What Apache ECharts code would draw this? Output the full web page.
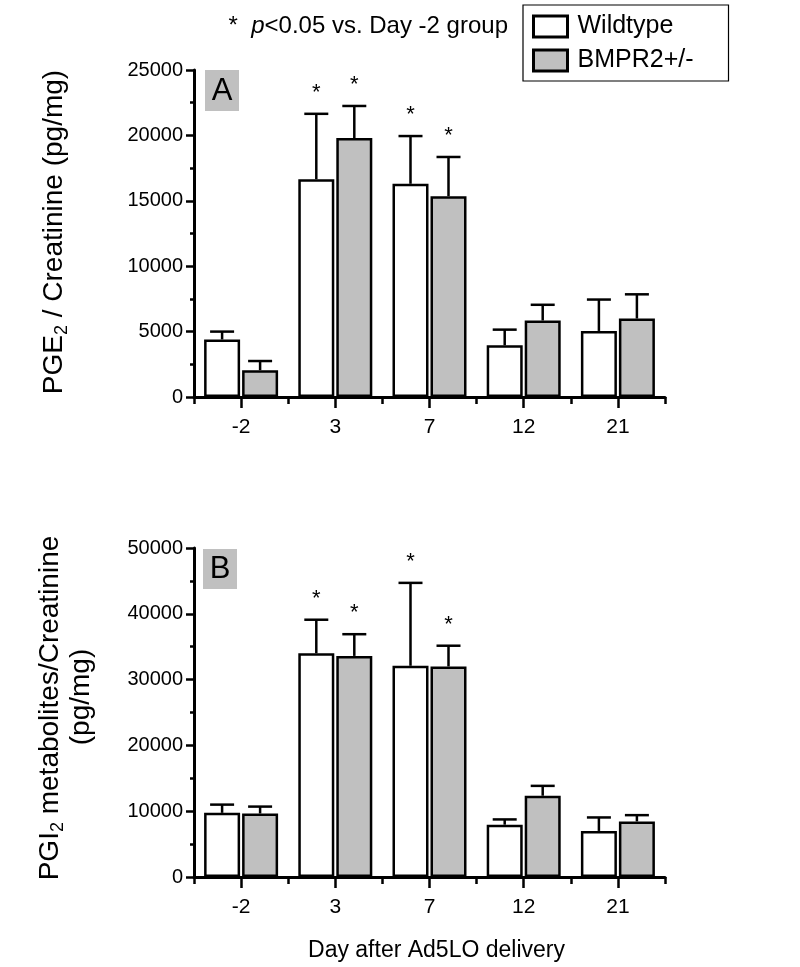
<!DOCTYPE html>
<html>
<head>
<meta charset="utf-8">
<script src="https://cdn.jsdelivr.net/npm/echarts@6/dist/echarts.min.js"></script>
<style>
html,body{margin:0;padding:0;background:#fff;}
#chart{width:800px;height:967px;}
</style>
</head>
<body>
<div id="chart"></div>
<script>
// ---- data ----
const days = ['-2', '3', '7', '12', '21'];
const seriesNames = ['Wildtype', 'BMPR2+/-'];
// Panel A: PGE2 / Creatinine (pg/mg)
const pgeWT = [4400, 16650, 16300, 3950, 5050];
const pgeWTsd = [600, 5000, 3650, 1200, 2400];
const pgeKO = [2050, 19800, 15350, 5850, 6000];
const pgeKOsd = [700, 2450, 3000, 1200, 1850];
const pgeWTsig = [0, 1, 1, 0, 0];
const pgeKOsig = [0, 1, 1, 0, 0];
// Panel B: PGI2 metabolites / Creatinine (pg/mg)
const pgiWT = [9750, 34000, 32100, 7950, 7000];
const pgiWTsd = [1250, 5100, 12600, 800, 2050];
const pgiKO = [9650, 33600, 32000, 12350, 8450];
const pgiKOsd = [1050, 3300, 3150, 1500, 950];
const pgiWTsig = [0, 1, 1, 0, 0];
const pgiKOsig = [0, 1, 1, 0, 0];
// axis ticks
const yMaxA = 25000, yStepA = 5000;
const yMaxB = 50000, yStepB = 10000;

const FONT = "'Liberation Sans', Arial, Helvetica, sans-serif";
const GRAY = '#c0c0c0';
const BAR_W = 36, BAR_GAP = 2;

const chart = echarts.init(document.getElementById('chart'), null, {renderer: 'canvas'});

function errData(mean, sd, sig) {
  return mean.map((m, i) => [i, m, sd[i], sig[i]]);
}
function errSeries(name, mean, sd, sig, side, gi) {
  return {
    type: 'custom', name: name, xAxisIndex: gi * 2, yAxisIndex: gi, z: 5,
    data: errData(mean, sd, sig),
    renderItem: function (params, api) {
      const i = api.value(0), m = api.value(1), s = api.value(2), g = api.value(3);
      const base = api.coord([i, m]);
      const top = api.coord([i, m + s]);
      const cx = base[0] + side * (BAR_W + BAR_GAP) / 2;
      const children = [
        {type: 'line', shape: {x1: cx, y1: base[1], x2: cx, y2: top[1]}, style: {stroke: '#000', lineWidth: 2.5}},
        {type: 'line', shape: {x1: cx - 12, y1: top[1], x2: cx + 12, y2: top[1]}, style: {stroke: '#000', lineWidth: 2.5}}
      ];
      if (g) {
        children.push({type: 'text', x: cx, y: top[1] - 10,
          style: {text: '*', fontSize: 22, fontFamily: FONT, fill: '#000', align: 'center', verticalAlign: 'bottom'}});
      }
      return {type: 'group', children: children};
    },
    tooltip: {show: false}
  };
}
function barSeries(name, data, color, gi) {
  return {
    type: 'bar', name: name, xAxisIndex: gi * 2, yAxisIndex: gi, data: data,
    barWidth: BAR_W, barGap: (BAR_GAP / BAR_W * 100) + '%',
    itemStyle: {color: color, borderColor: '#000', borderWidth: 2.5},
    emphasis: {disabled: true}
  };
}
function xAxes(gi, showName) {
  return [
    {
      type: 'category', gridIndex: gi, data: days, position: 'bottom',
      axisLine: {show: true, lineStyle: {color: '#000', width: 3}},
      axisTick: {show: true, alignWithLabel: true, length: 11, lineStyle: {color: '#000', width: 2.5}},
      axisLabel: {fontSize: 21, fontFamily: FONT, color: '#000', margin: 20},
      name: showName ? 'Day after Ad5LO delivery' : '',
      nameLocation: 'middle', nameGap: 62,
      nameTextStyle: {fontSize: 23, fontFamily: FONT, color: '#000', padding: [0, 0, 0, 14]}
    },
    {
      type: 'category', gridIndex: gi, data: days, position: 'bottom',
      axisLine: {show: false},
      axisTick: {show: true, alignWithLabel: false, length: 7, lineStyle: {color: '#000', width: 2.5}},
      axisLabel: {show: false}
    }
  ];
}
function yAxis(gi, max, step) {
  return {
    type: 'value', gridIndex: gi, min: 0, max: max, interval: step,
    axisLine: {show: true, lineStyle: {color: '#000', width: 3}},
    axisTick: {show: true, length: 8, lineStyle: {color: '#000', width: 2.5}},
    minorTick: {show: true, splitNumber: 2, length: 4, lineStyle: {color: '#000', width: 2.5}},
    splitLine: {show: false},
    axisLabel: {fontSize: 20, fontFamily: FONT, color: '#000', margin: 11, formatter: v => String(v)}
  };
}

function rotTitle(x, y, rich) {
  return {
    type: 'text', x: x, y: y, rotation: Math.PI / 2,
    style: {
      text: rich, align: 'center', verticalAlign: 'middle',
      fontSize: 28, fontFamily: FONT, fill: '#000',
      rich: {
        m: {fontSize: 28, fontFamily: FONT, fill: '#000', lineHeight: 32, verticalAlign: 'bottom'},
        s: {fontSize: 18, fontFamily: FONT, fill: '#000', lineHeight: 18, verticalAlign: 'bottom', padding: [0, 0, -3, 0]}
      }
    }
  };
}

const option = {
  animation: false,
  backgroundColor: '#fff',
  textStyle: {fontFamily: FONT},
  grid: [
    {left: 194, width: 471, top: 70, height: 327},
    {left: 194, width: 471, top: 548, height: 329}
  ],
  xAxis: [...xAxes(0, false), ...xAxes(1, true)],
  yAxis: [yAxis(0, yMaxA, yStepA), yAxis(1, yMaxB, yStepB)],
  legend: {
    data: seriesNames, orient: 'vertical', left: 523, top: 5,
    borderColor: '#000', borderWidth: 1.2, padding: [9, 35, 8, 9],
    icon: 'rect',
    itemWidth: 34, itemHeight: 21, itemGap: 9,
    itemStyle: {borderColor: '#000', borderWidth: 3},
    textStyle: {fontSize: 25, fontFamily: FONT, color: '#000', padding: [0, 0, 0, 5]},
    selectedMode: false
  },
  series: [
    barSeries(seriesNames[0], pgeWT, '#ffffff', 0),
    barSeries(seriesNames[1], pgeKO, GRAY, 0),
    errSeries('errA1', pgeWT, pgeWTsd, pgeWTsig, -1, 0),
    errSeries('errA2', pgeKO, pgeKOsd, pgeKOsig, 1, 0),
    barSeries(seriesNames[0], pgiWT, '#ffffff', 1),
    barSeries(seriesNames[1], pgiKO, GRAY, 1),
    errSeries('errB1', pgiWT, pgiWTsd, pgiWTsig, -1, 1),
    errSeries('errB2', pgiKO, pgiKOsd, pgiKOsig, 1, 1)
  ],
  graphic: [
    // annotation
    {type: 'text', x: 508, y: 26, style: {
      text: '{n|*  }{i|p}{n|<0.05 vs. Day -2 group}', align: 'right', verticalAlign: 'middle',
      rich: {
        n: {fontSize: 24, fontFamily: FONT, fill: '#000'},
        i: {fontSize: 24, fontFamily: FONT, fill: '#000', fontStyle: 'italic'}
      }
    }},
    // panel labels
    {type: 'rect', shape: {x: 205, y: 70, width: 34, height: 41}, style: {fill: GRAY}},
    {type: 'text', x: 222, y: 91, style: {text: 'A', fontSize: 31, fontFamily: FONT, fill: '#000', align: 'center', verticalAlign: 'middle'}},
    {type: 'rect', shape: {x: 203, y: 549, width: 34, height: 40}, style: {fill: GRAY}},
    {type: 'text', x: 220, y: 569, style: {text: 'B', fontSize: 31, fontFamily: FONT, fill: '#000', align: 'center', verticalAlign: 'middle'}},
    // y titles
    rotTitle(52, 232, '{m|PGE}{s|2}{m| / Creatinine (pg/mg)}'),
    rotTitle(48, 708, '{m|PGI}{s|2}{m| metabolites/Creatinine}'),
    rotTitle(79, 697, '{m|(pg/mg)}')
  ]
};
chart.setOption(option);
</script>
</body>
</html>
